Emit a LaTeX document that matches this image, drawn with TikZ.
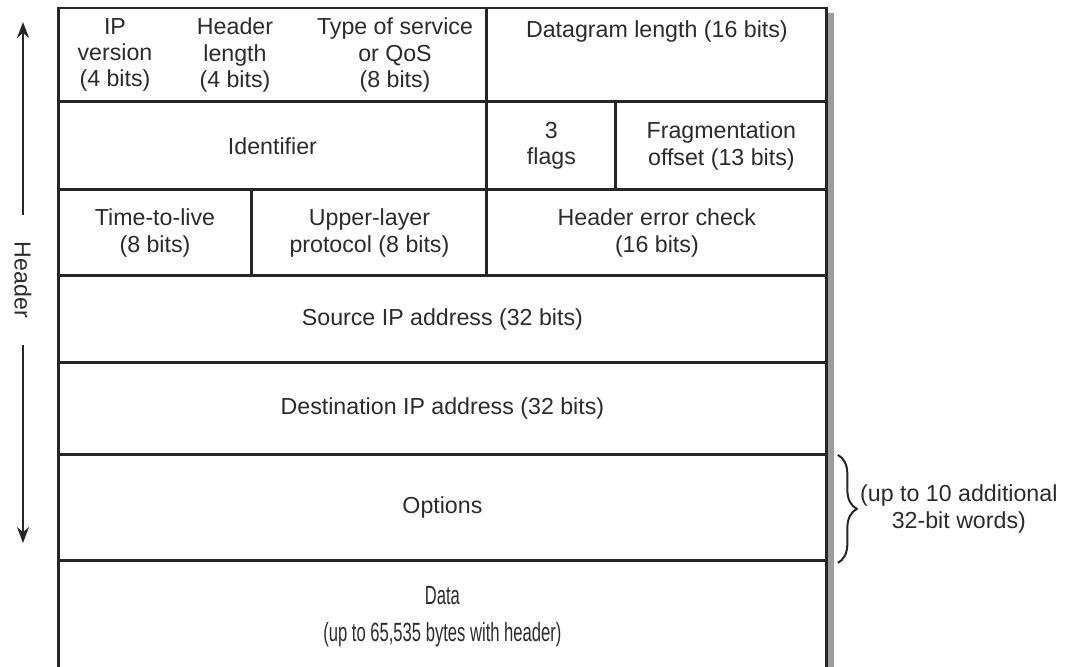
\documentclass[tikz,border=0pt]{standalone}
\usepackage{fontspec}
\setmainfont{Liberation Sans}
\newfontfamily\narrowfont[FakeStretch=0.63]{Liberation Sans}
\usepackage{xcolor}
\usepackage{tikz}
\usetikzlibrary{arrows.meta,positioning,calc,decorations.pathreplacing}
\definecolor{rulegray}{HTML}{262626}
\definecolor{inkgray}{HTML}{2B2B2B}
\definecolor{shadowgray}{HTML}{9C9C9C}

\begin{document}
\begin{tikzpicture}[
    x=0.02cm, y=-0.02cm,
    font=\fontsize{13.2}{15}\selectfont,
    field/.style={
        draw=rulegray,
        line width=0.06cm,
        outer sep=0pt,
        inner sep=2pt,
        align=center,
        text=inkgray
    },
    label/.style={
        align=center,
        inner sep=0pt,
        text=inkgray
    },
    arrow/.style={-{Stealth[length=3.2mm,width=2.4mm]},line width=0.04cm,draw=rulegray}
]
\useasboundingbox (0,0) rectangle (1075,666);

% row 1
\node[field, anchor=north west, minimum width=8.58cm, minimum height=1.88cm] (vht) at (58,8) {};
\node[field, right=0pt of vht, minimum width=6.8cm, minimum height=1.88cm] (dgl) {Datagram length (16 bits)\\\mbox{}\\\mbox{}};
\node[label] (ipver) at (115,55) {IP\\version\\(4 bits)};
\node[label] (hlen) at (235,55) {Header\\length\\(4 bits)};
\node[label] (tos) at (395,55) {Type of service\\or QoS\\(8 bits)};

% row 2
\node[field, below=0pt of vht, minimum width=8.58cm, minimum height=1.76cm] (ident) {Identifier};
\node[field, right=0pt of ident, minimum width=2.58cm, minimum height=1.76cm] (flags) {3\\flags};
\node[field, right=0pt of flags, minimum width=4.22cm, minimum height=1.76cm] (fragoff) {Fragmentation\\offset (13 bits)};

% row 3
\node[field, below=0pt of ident.south west, anchor=north west, minimum width=3.88cm, minimum height=1.72cm] (ttl) {Time-to-live\\(8 bits)};
\node[field, right=0pt of ttl, minimum width=4.7cm, minimum height=1.72cm] (proto) {Upper-layer\\protocol (8 bits)};
\node[field, right=0pt of proto, minimum width=6.8cm, minimum height=1.72cm] (hec) {Header error check\\(16 bits)};

% full-width rows
\node[field, below=0pt of ttl.south west, anchor=north west, minimum width=15.38cm, minimum height=1.74cm] (srcip) {Source IP address (32 bits)};
\node[field, below=0pt of srcip, minimum width=15.38cm, minimum height=1.84cm] (dstip) {Destination IP address (32 bits)};
\node[field, below=0pt of dstip, minimum width=15.38cm, minimum height=2.12cm] (opts) {Options};
\node[field, below=0pt of opts, minimum width=15.38cm, minimum height=2.22cm,
      font=\narrowfont\fontsize{15}{21}\selectfont] (data) {Data\\(up to 65,535 bytes with header)};

% shadow on the right edge
\fill[shadowgray] ($(dgl.north east)+(1.5,5)$) rectangle ($(data.south east)+(7,10)$);

% header extent
\node[label, rotate=-90, inner xsep=0.54cm] (hdr) at (23,280) {Header};
\coordinate (hdrtop) at (23,22);
\coordinate (hdrbot) at (23,543);
\draw[arrow] (hdr) -- (hdrtop);
\draw[arrow] (hdr) -- (hdrbot);

% options brace
\coordinate (bracetop) at ($(opts.north east)+(11,0)$);
\coordinate (bracebot) at ($(opts.south east)+(11,2)$);
\draw[rulegray, line width=0.04cm, decorate, decoration={brace, amplitude=0.38cm}] (bracetop) -- (bracebot);
\node[label, anchor=west] (optsnote) at ($(bracetop)!0.5!(bracebot)+(22,0)$) {(up to 10 additional\\32-bit words)};

\end{tikzpicture}
\end{document}
